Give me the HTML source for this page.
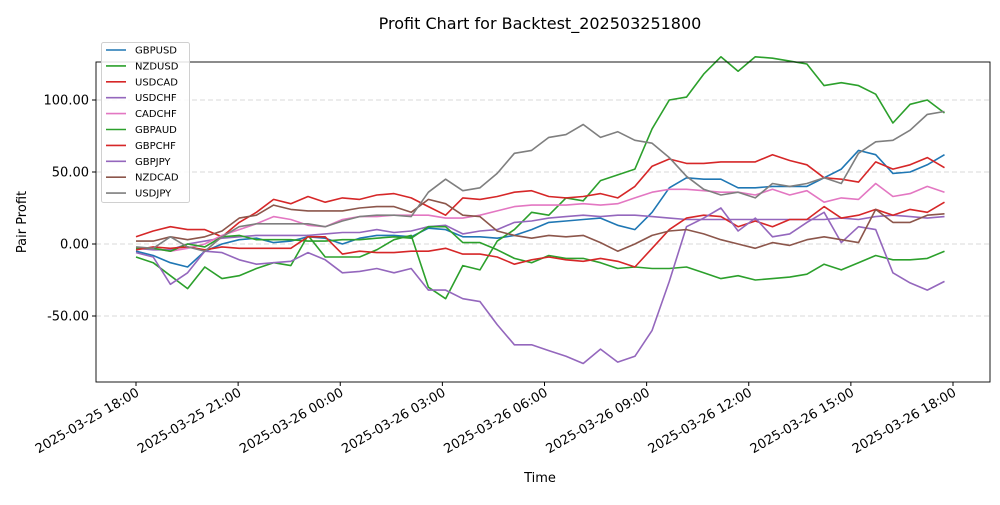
<!DOCTYPE html>
<html><head><meta charset="utf-8"><style>
body{margin:0;background:#fff;font-family:"Liberation Sans","DejaVu Sans",sans-serif}
svg text{font-family:"DejaVu Sans","Liberation Sans",sans-serif}
</style></head><body>
<svg id="chart" width="1000" height="500" xmlns="http://www.w3.org/2000/svg">
<rect width="1000" height="500" fill="#fff"/>
<text x="540" y="29" text-anchor="middle" font-size="16">Profit Chart for Backtest_202503251800</text>
<text transform="translate(26,222) rotate(-90)" text-anchor="middle" font-size="13">Pair Profit</text>
<text x="540" y="482" text-anchor="middle" font-size="13">Time</text>
<g id="grid"></g><g id="series"></g><g id="axes"></g><g id="legend"></g>
</svg>
<script>
const seriesNames=["GBPUSD","NZDUSD","USDCAD","USDCHF","CADCHF","GBPAUD","GBPCHF","GBPJPY","NZDCAD","USDJPY"];
const seriesColors=["#1f77b4","#2ca02c","#d62728","#9467bd","#e377c2","#2ca02c","#d62728","#9467bd","#8c564b","#7f7f7f"];
const yTicks=[-50,0,50,100];
const yTickLabels=["-50.00","0.00","50.00","100.00"];
const xTickHours=[0,3,6,9,12,15,18,21,24];
const xTickLabels=["2025-03-25 18:00","2025-03-25 21:00","2025-03-26 00:00","2025-03-26 03:00","2025-03-26 06:00","2025-03-26 09:00","2025-03-26 12:00","2025-03-26 15:00","2025-03-26 18:00"];
const gbpusd=[-5,-8,-13,-16,-5,0,3,4,1,2,5,4,0,4,6,6,5,11,10,5,5,4,6,10,15,16,17,18,13,10,22,39,46,45,45,39,39,40,40,40,46,52,65,62,49,50,55,62];
const nzdusd=[-9,-13,-22,-31,-16,-24,-22,-17,-13,-15,6,-9,-9,-9,-4,3,6,-30,-38,-15,-18,2,10,22,20,32,30,44,48,52,80,100,102,118,130,120,130,129,127,125,110,112,110,104,84,97,100,91];
const usdcad=[5,9,12,10,10,5,15,22,31,28,33,29,32,31,34,35,32,26,20,32,31,33,36,37,33,32,33,35,32,40,54,59,56,56,57,57,57,62,58,55,46,45,43,57,52,55,60,53];
const usdchf=[-3,-4,-4,0,2,4,5,6,6,6,6,7,8,8,10,8,9,12,13,7,9,10,15,16,18,19,20,19,20,20,19,18,17,17,17,17,17,17,17,17,17,18,17,19,20,19,18,19];
const cadchf=[-3,-3,-5,-3,0,6,10,14,19,17,13,12,17,19,19,20,20,20,18,18,20,23,26,27,27,27,28,27,28,32,36,38,38,37,36,36,34,38,34,37,29,32,31,42,33,35,40,36];
const gbpaud=[-3,-3,-5,0,-2,5,6,3,3,3,2,2,3,3,4,5,4,12,12,1,1,-4,-10,-13,-8,-10,-10,-13,-17,-16,-17,-17,-16,-20,-24,-22,-25,-24,-23,-21,-14,-18,-13,-8,-11,-11,-10,-5];
const gbpchf=[-4,-2,-3,-2,-4,-2,-3,-3,-3,-3,5,5,-7,-5,-6,-6,-5,-5,-3,-7,-7,-9,-14,-11,-9,-11,-12,-10,-12,-16,-3,10,18,20,19,12,16,12,17,17,26,18,20,24,20,24,22,29];
const gbpjpy=[-6,-9,-28,-20,-5,-6,-11,-14,-13,-12,-6,-11,-20,-19,-17,-20,-17,-32,-32,-38,-40,-56,-70,-70,-74,-78,-83,-73,-82,-78,-60,-26,12,18,25,9,18,5,7,15,22,1,12,10,-20,-27,-32,-26];
const nzdcad=[2,2,5,3,5,9,18,20,27,24,23,23,23,25,26,26,22,31,28,20,19,9,6,4,6,5,6,1,-5,0,6,9,10,7,3,0,-3,1,-1,3,5,3,1,24,15,15,20,21];
const usdjpy=[-2,-3,5,-2,-5,5,12,14,14,14,14,12,16,19,20,20,19,36,45,37,39,49,63,65,74,76,83,74,78,72,70,60,47,38,34,36,32,42,40,42,46,42,63,71,72,79,90,92];
const allSeries=[gbpusd,nzdusd,usdcad,usdchf,cadchf,gbpaud,gbpchf,gbpjpy,nzdcad,usdjpy];

const NS="http://www.w3.org/2000/svg";
const L=96,R=990,T=62,B=382;
const xs=h=>136+h*(817/24);
const ys=v=>244-v*1.44;
const stepH=23.75/47;
function mk(tag,attrs,parent){const e=document.createElementNS(NS,tag);for(const k in attrs)e.setAttribute(k,attrs[k]);parent.appendChild(e);return e;}
const grid=document.getElementById('grid'),ser=document.getElementById('series'),axes=document.getElementById('axes'),leg=document.getElementById('legend');
yTicks.forEach((v,i)=>{
 const g=mk('line',{x1:L,x2:R,y1:ys(v),y2:ys(v),stroke:'#cccccc','stroke-dasharray':'5,3','stroke-width':0.8},grid);
 
 
 const t=mk('line',{x1:L-4,x2:L,y1:ys(v),y2:ys(v),stroke:'#000'},axes);
 
 
 const tx=mk('text',{x:L-7,y:ys(v)+4.5,'text-anchor':'end','font-size':13},axes);
 tx.textContent=yTickLabels[i];
 
 
});
xTickHours.forEach((h,i)=>{
 const x=xs(h);
 const t=mk('line',{x1:x,x2:x,y1:B,y2:B+4,stroke:'#000'},axes);
 
 
 const tx=mk('text',{transform:`translate(${x+4},${B+13}) rotate(-30)`,'text-anchor':'end','font-size':13},axes);
 tx.textContent=xTickLabels[i];
 
 
});
allSeries.forEach((arr,si)=>{
 const pts=arr.map((v,k)=>xs(k*stepH).toFixed(1)+','+ys(v).toFixed(1)).join(' ');
 const p=mk('polyline',{points:pts,fill:'none',stroke:seriesColors[si],'stroke-width':1.6,'stroke-linejoin':'round'},ser);
 
 
});
const frame=mk('rect',{x:L,y:T,width:R-L,height:B-T,fill:'none',stroke:'#000','stroke-width':0.9},axes);


const lb=mk('rect',{x:101.5,y:42.5,width:88,height:160,rx:2,fill:'#fff','fill-opacity':0.85,stroke:'#d0d0d0'},leg);


seriesNames.forEach((n,i)=>{
 const y=50+i*15.9;
 const l=mk('line',{x1:106,x2:126,y1:y,y2:y,stroke:seriesColors[i],'stroke-width':1.6},leg);
 
 
 const t=mk('text',{x:135,y:y+3.5,'font-size':10},leg);
 t.textContent=n;
 
 
});
</script>
</body></html>
